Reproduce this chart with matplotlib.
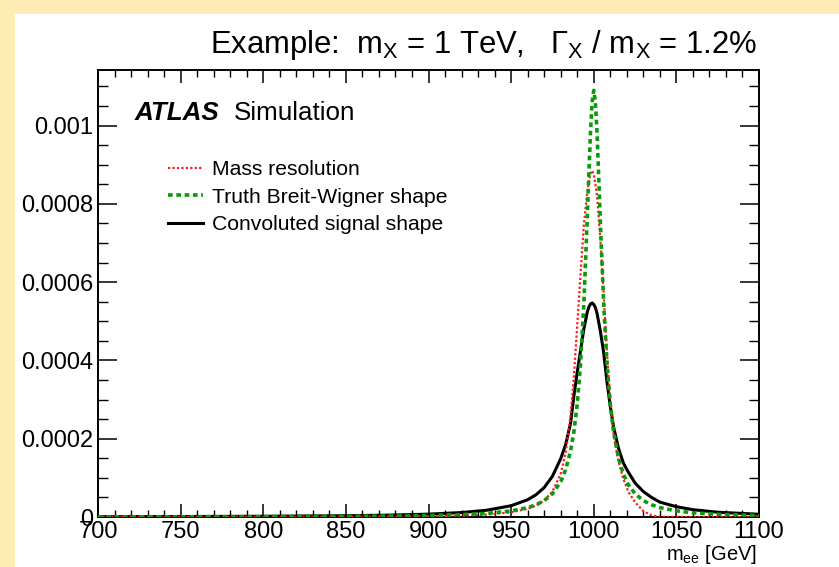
import matplotlib
matplotlib.use("Agg")
import matplotlib.pyplot as plt
from matplotlib.ticker import FixedLocator, FixedFormatter, MultipleLocator
from matplotlib.patches import Rectangle

# values (m_ee in GeV)
mass = [700, 750, 800, 850, 875, 900, 920, 935, 950, 960, 965, 970, 975, 980,
        983, 986, 988, 990, 992, 994, 996, 997, 998, 999, 1000, 1001, 1002,
        1004, 1006, 1008, 1010, 1012, 1015, 1018, 1021, 1025, 1030, 1035,
        1040, 1050, 1060, 1075, 1100]

resolution = [0, 1e-7, 3e-7, 6e-7, 1e-6, 2e-6, 3.5e-6, 6e-6, 1.2e-5, 2.1e-5,
              2.9e-5, 4.2e-5, 6.5e-5, 1.1e-4, 1.65e-4, 2.6e-4, 3.6e-4, 4.9e-4,
              6.2e-4, 7.46e-4, 8.26e-4, 8.55e-4, 8.78e-4, 8.85e-4, 8.75e-4,
              8.5e-4, 8.2e-4, 7.1e-4, 5.7e-4, 4.2e-4, 3.0e-4, 2.1e-4, 1.42e-4,
              9.6e-5, 6.4e-5, 3.8e-5, 1.5e-5, 4e-6, 5e-7, 0, 0, 0, 0]

breit_wigner = [4.4e-7, 6.3e-7, 9.8e-7, 1.74e-6, 2.51e-6, 3.9e-6, 6.1e-6,
                9.2e-6, 1.55e-5, 2.4e-5, 3.11e-5, 4.19e-5, 5.93e-5, 9.0e-5,
                1.21e-4, 1.69e-4, 2.18e-4, 2.88e-4, 3.92e-4, 5.45e-4, 7.55e-4,
                8.72e-4, 9.81e-4, 1.06e-3, 1.09e-3, 1.06e-3, 9.81e-4, 7.55e-4,
                5.45e-4, 3.92e-4, 2.88e-4, 2.18e-4, 1.50e-4, 1.09e-4, 8.2e-5,
                5.93e-5, 4.19e-5, 3.11e-5, 2.4e-5, 1.55e-5, 1.08e-5, 6.9e-6,
                3.9e-6]

convoluted = [8.1e-7, 1.17e-6, 1.83e-6, 3.25e-6, 4.7e-6, 7.3e-6, 1.14e-5,
              1.72e-5, 2.88e-5, 4.41e-5, 5.67e-5, 7.52e-5, 1.04e-4, 1.49e-4,
              1.85e-4, 2.4e-4, 3.1e-4, 3.7e-4, 4.25e-4, 4.8e-4, 5.22e-4,
              5.36e-4, 5.44e-4, 5.47e-4, 5.43e-4, 5.35e-4, 5.2e-4, 4.75e-4,
              4.2e-4, 3.45e-4, 2.83e-4, 2.3e-4, 1.75e-4, 1.37e-4, 1.14e-4,
              8.7e-5, 6.5e-5, 5.0e-5, 3.8e-5, 2.63e-5, 1.87e-5, 1.22e-5, 7.0e-6]

y_ticks = [0, 0.0002, 0.0004, 0.0006, 0.0008, 0.001]
y_tick_labels = ["0", "0.0002", "0.0004", "0.0006", "0.0008", "0.001"]

plt.rcParams["font.family"] = ["Liberation Sans", "DejaVu Sans"]
plt.rcParams["mathtext.fontset"] = "custom"
plt.rcParams["mathtext.rm"] = "Liberation Sans"
plt.rcParams["mathtext.it"] = "Liberation Sans:italic"

W, H = 839, 567
fig = plt.figure(figsize=(W / 100, H / 100), dpi=100, facecolor="#feecb4")
fig.patches.append(Rectangle((15 / W, 0), 1, (H - 14) / H, transform=fig.transFigure,
                             facecolor="white", edgecolor="none", zorder=-10))

ax = fig.add_axes([98 / W, 50 / H, 661 / W, 447 / H])
ax.set_zorder(1)

ax.plot(mass, convoluted, color="black", lw=2.2, label="Convoluted signal shape", zorder=3)
ax.plot(mass, resolution, color="#ff1a1a", lw=1.6, linestyle=(0, (1, 1)),
        label="Mass resolution", zorder=4)
ax.plot(mass, breit_wigner, color="#0a9a0a", lw=2.6, linestyle=(0, (1.3, 1.0)),
        label="Truth Breit-Wigner shape", zorder=5)

ax.set_xlim(700, 1100)
ax.set_ylim(0, 0.001142)

ax.xaxis.set_major_locator(MultipleLocator(50))
ax.xaxis.set_minor_locator(MultipleLocator(10))
ax.yaxis.set_major_locator(FixedLocator(y_ticks))
ax.yaxis.set_major_formatter(FixedFormatter(y_tick_labels))
ax.yaxis.set_minor_locator(MultipleLocator(0.00005))

ax.tick_params(which="both", direction="in", top=True, right=True, labelsize=17, colors="black")
ax.tick_params(axis="x", which="major", length=9.4, width=1.1, pad=3)
ax.tick_params(axis="x", which="minor", length=4.7, width=1.0)
ax.tick_params(axis="y", which="major", length=14, width=1.1, pad=3.6)
ax.tick_params(axis="y", which="minor", length=7.2, width=1.0)
for s in ax.spines.values():
    s.set_linewidth(1.4)

handles, labels = ax.get_legend_handles_labels()
order = [1, 2, 0]
ax.legend([handles[i] for i in order], [labels[i] for i in order],
          loc="upper left", bbox_to_anchor=(168 / W, 1 - 160 / H),
          bbox_transform=fig.transFigure, frameon=False, fontsize=15.2,
          handlelength=1.65, handletextpad=0.42, labelspacing=0.41,
          borderpad=0, borderaxespad=0)

fig.text(757 / W, 1 - 53 / H,
         "Example:  $\\mathrm{m_X}$ = 1 TeV,   $\\mathrm{Γ_X}$ / $\\mathrm{m_X}$ = 1.2%",
         ha="right", va="baseline", fontsize=22.3)
fig.text(135 / W, 1 - 119.5 / H, "ATLAS", fontweight="bold", fontstyle="italic",
         fontsize=18.7, va="baseline")
fig.text(234 / W, 1 - 119.5 / H, "Simulation", fontsize=18.7, va="baseline")
fig.text(757 / W, 1 - 560 / H, "$\\mathrm{m_{ee}}$ [GeV]", ha="right",
         va="baseline", fontsize=14.5)

fig.savefig("out.png", dpi=100, facecolor=fig.get_facecolor())
